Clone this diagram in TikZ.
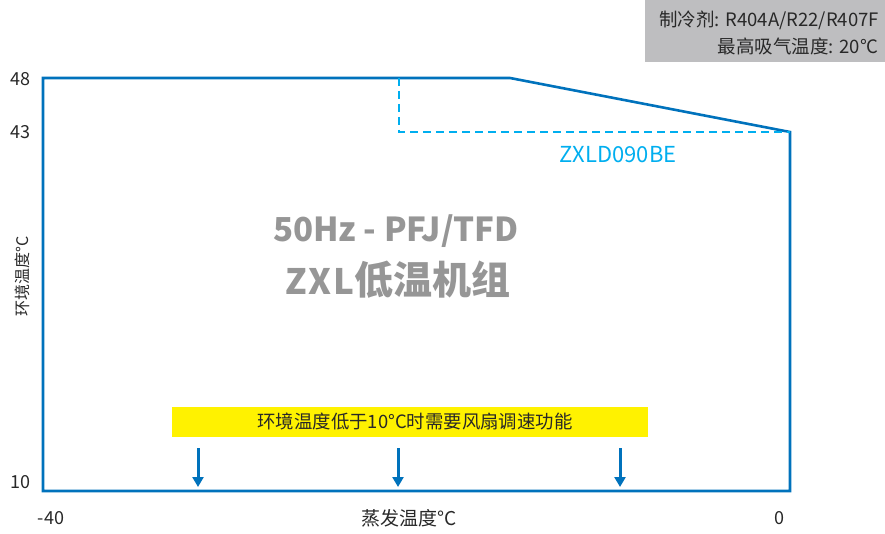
\documentclass[tikz,border=0pt]{standalone}
\usepackage{fontspec}
\setmainfont{Noto Sans CJK SC}
\usetikzlibrary{positioning,arrows.meta}
\definecolor{lineblue}{RGB}{0,114,188}
\definecolor{dashblue}{RGB}{0,174,239}
\definecolor{boxgray}{RGB}{190,190,192}
\definecolor{titlegray}{RGB}{150,150,150}
\definecolor{noteyellow}{RGB}{255,242,0}
\definecolor{textgray}{RGB}{40,40,40}
\tikzset{
  ticklabel/.style={font=\fontsize{18}{20}\selectfont, text=textgray, inner sep=0pt},
  titletext/.style={font=\fontsize{33}{50}\selectfont\bfseries, text=titlegray, align=center},
  downarrow/.style={lineblue, line width=3pt, -{Triangle[width=11pt,length=10pt]}}
}

\begin{document}
\begin{tikzpicture}[x=1pt,y=-1pt]
          \useasboundingbox (0,0) rectangle (885,534);
          % refrigerant box
          \fill[boxgray] (645,0) rectangle (885,62);
          \node[ticklabel, font=\fontsize{18.5}{27}\selectfont, anchor=east, align=right] (info) at (879,33)
            {制冷剂: R404A/R22/R407F\\最高吸气温度: 20°C};
          % envelope
          \draw[lineblue, line width=2.6pt, line join=miter] (43,78) -- (510,78) -- (790,132) -- (790,491) -- (43,491) -- cycle;
          \draw[dashblue, line width=2.5pt, dash pattern=on 8pt off 5pt] (399,78) -- (399,132) -- (790,132);
          \node[ticklabel, text=dashblue, font=\fontsize{22}{24}\selectfont] (model) at (618,155) {ZXLD090BE};
          % axis labels
          \node[ticklabel, anchor=east] (t48) at (31,79) {48};
          \node[ticklabel, anchor=east] (t43) at (31,132) {43};
          \node[ticklabel, anchor=east] (t10) at (31,482) {10};
          \node[ticklabel] (tm40) at (51,518) {-40};
          \node[ticklabel] (t0) at (779,518) {0};
          \node[ticklabel, font=\fontsize{19}{20}\selectfont] (xlabel) at (409,518) {蒸发温度°C};
          \node[ticklabel, font=\fontsize{16}{20}\selectfont, rotate=90] (ylabel) at (22,276) {环境温度°C};
          % title
          \node[titletext] (title) at (396,231) {50Hz - PFJ/TFD};
          \node[titletext] (subtitle) at (398,280)
            {{\fontsize{35}{40}\selectfont\addfontfeature{LetterSpace=6}ZXL}{\fontsize{39}{40}\selectfont 低温机组}};
          % fan speed note
          \fill[noteyellow] (172,407) rectangle (648,437);
          \node[ticklabel, font=\fontsize{18.4}{20}\selectfont] (note) at (415,421) {环境温度低于10°C时需要风扇调速功能};
          \foreach \i in {198,398,620}{
            \coordinate (a\i) at (\i,448);
            \coordinate (b\i) at (\i,487);
            \draw[downarrow] (a\i) -- (b\i);}
        \end{tikzpicture}
\end{document}
